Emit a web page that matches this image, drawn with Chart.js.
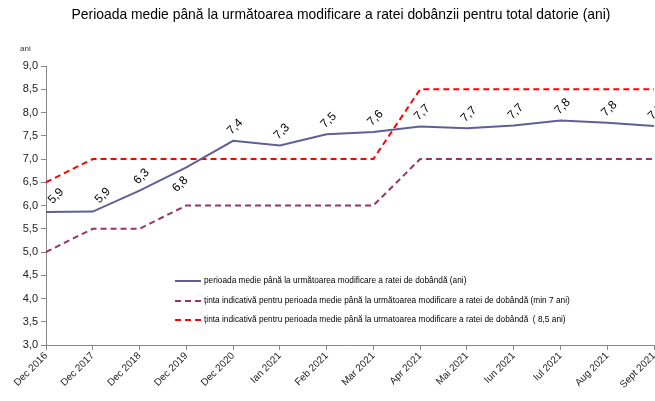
<!DOCTYPE html>
<html>
<head>
<meta charset="utf-8">
<script src="https://cdn.jsdelivr.net/npm/chart.js@4/dist/chart.umd.min.js"></script>
<style>
  html, body { margin: 0; padding: 0; background: #fff; }
  #wrap { position: relative; width: 655px; height: 401px; }
</style>
</head>
<body>
<div id="wrap"><canvas id="chart" width="655" height="401"></canvas></div>
<script>
// categories
var labels = ["Dec 2016", "Dec 2017", "Dec 2018", "Dec 2019", "Dec 2020", "Ian 2021", "Feb 2021",
    "Mar 2021", "Apr 2021", "Mai 2021", "Iun 2021", "Iul 2021", "Aug 2021", "Sept 2021"];

// perioada medie (ani)
var perioada = [5.86, 5.87, 6.32, 6.82, 7.39, 7.29, 7.53, 7.58, 7.70, 7.66, 7.72, 7.83, 7.78, 7.71];
// tinta min
var tintaMin = [5.0, 5.5, 5.5, 6.0, 6.0, 6.0, 6.0, 6.0, 7.0, 7.0, 7.0, 7.0, 7.0, 7.0];
// tinta indicativa
var tintaInd = [6.5, 7.0, 7.0, 7.0, 7.0, 7.0, 7.0, 7.0, 8.5, 8.5, 8.5, 8.5, 8.5, 8.5];

var legendNames = [
    "perioada medie până la următoarea modificare a ratei de dobândă (ani)",
    "ținta indicativă pentru perioada medie până la următoarea modificare a ratei de dobândă (min 7 ani)",
    "ținta indicativă pentru perioada medie până la urmatoarea modificare a ratei de dobândă  ( 8,5 ani)"
];

var titleText = "Perioada medie până la următoarea modificare a ratei dobânzii pentru total datorie (ani)";

function fmt(v) {
    return v.toFixed(1).replace(".", ",");
}

// titles, value labels and legend drawn on the canvas
var extras = {
    id: "extras",
    afterDatasetsDraw: function(chart) {
        var ctx = chart.ctx;
        ctx.save();
        ctx.fillStyle = "#000";
        ctx.font = "13.9px 'Liberation Sans', Arial, sans-serif";
        ctx.textAlign = "center";
        ctx.textBaseline = "middle";
        ctx.fillText(titleText, 341, 15);

        ctx.font = "8px 'Liberation Sans', Arial, sans-serif";
        ctx.textAlign = "left";
        ctx.fillStyle = "#333";
        ctx.fillText("ani", 20, 49);

        // value labels on first series
        var meta = chart.getDatasetMeta(0);
        ctx.font = "12px 'Liberation Sans', Arial, sans-serif";
        ctx.fillStyle = "#000";
        ctx.textAlign = "center";
        meta.data.forEach(function(pt, i) {
            var dx = 2, dy = -14;
            if (i == 3) { dx = -6; dy = 17; }
            if (i < 2) { dx = 10; dy = -16; }
            ctx.save();
            ctx.translate(pt.x + dx, pt.y + dy);
            ctx.rotate(-Math.PI / 4);
            ctx.fillText(fmt(perioada[i]), 0, 0);
            ctx.restore();
        });

        // legend
        var lx = 175, ly = [281, 301, 320];
        ctx.font = "8.3px 'Liberation Sans', Arial, sans-serif";
        ctx.textAlign = "left";
        chart.data.datasets.forEach(function(ds, i) {
            ctx.beginPath();
            ctx.strokeStyle = ds.borderColor;
            ctx.lineWidth = 2;
            ctx.setLineDash(ds.borderDash || []);
            ctx.moveTo(lx, ly[i]);
            ctx.lineTo(lx + 26, ly[i]);
            ctx.stroke();
            ctx.setLineDash([]);
            ctx.fillStyle = "#000";
            ctx.fillText(legendNames[i], lx + 29, ly[i]);
        });
        ctx.restore();
    }
};

new Chart(document.getElementById("chart"), {
    type: "line",
    data: {
        labels: labels,
        datasets: [{
            data: perioada,
            borderColor: "#5f5f96",
            borderWidth: 2,
            pointRadius: 0,
            tension: 0
        }, {
            data: tintaMin,
            borderColor: "#993366",
            borderWidth: 2,
            borderDash: [6, 4],
            pointRadius: 0,
            tension: 0
        }, {
            data: tintaInd,
            borderColor: "#ff0000",
            borderWidth: 2,
            borderDash: [6, 4],
            pointRadius: 0,
            tension: 0
        }]
    },
    options: {
        responsive: false,
        animation: false,
        layout: { padding: { top: 66, left: 6, right: 1, bottom: 0 } },
        plugins: {
            legend: { display: false },
            tooltip: { enabled: false }
        },
        scales: {
            x: {
                offset: false,
                afterFit: function(scale) {
                    scale.height = 56;
                    scale.paddingLeft = 0;
                    scale.paddingRight = 0;
                },
                grid: { display: true, drawOnChartArea: false, tickLength: 5, color: "#888" },
                border: { color: "#888" },
                ticks: {
                    autoSkip: false,
                    maxRotation: 45,
                    minRotation: 45,
                    padding: 0,
                    color: "#222",
                    font: { family: "'Liberation Sans', Arial, sans-serif", size: 10 }
                }
            },
            y: {
                min: 3,
                max: 9,
                afterFit: function(scale) {
                    scale.width = 40;
                    scale.paddingTop = 0;
                    scale.paddingBottom = 0;
                },
                grid: { display: true, drawOnChartArea: false, tickLength: 5, color: "#888" },
                border: { color: "#888" },
                ticks: {
                    stepSize: 0.5,
                    padding: 3,
                    color: "#222",
                    font: { family: "'Liberation Sans', Arial, sans-serif", size: 11 },
                    callback: function(v) { return fmt(v); }
                }
            }
        }
    },
    plugins: [extras]
});
</script>
</body>
</html>
